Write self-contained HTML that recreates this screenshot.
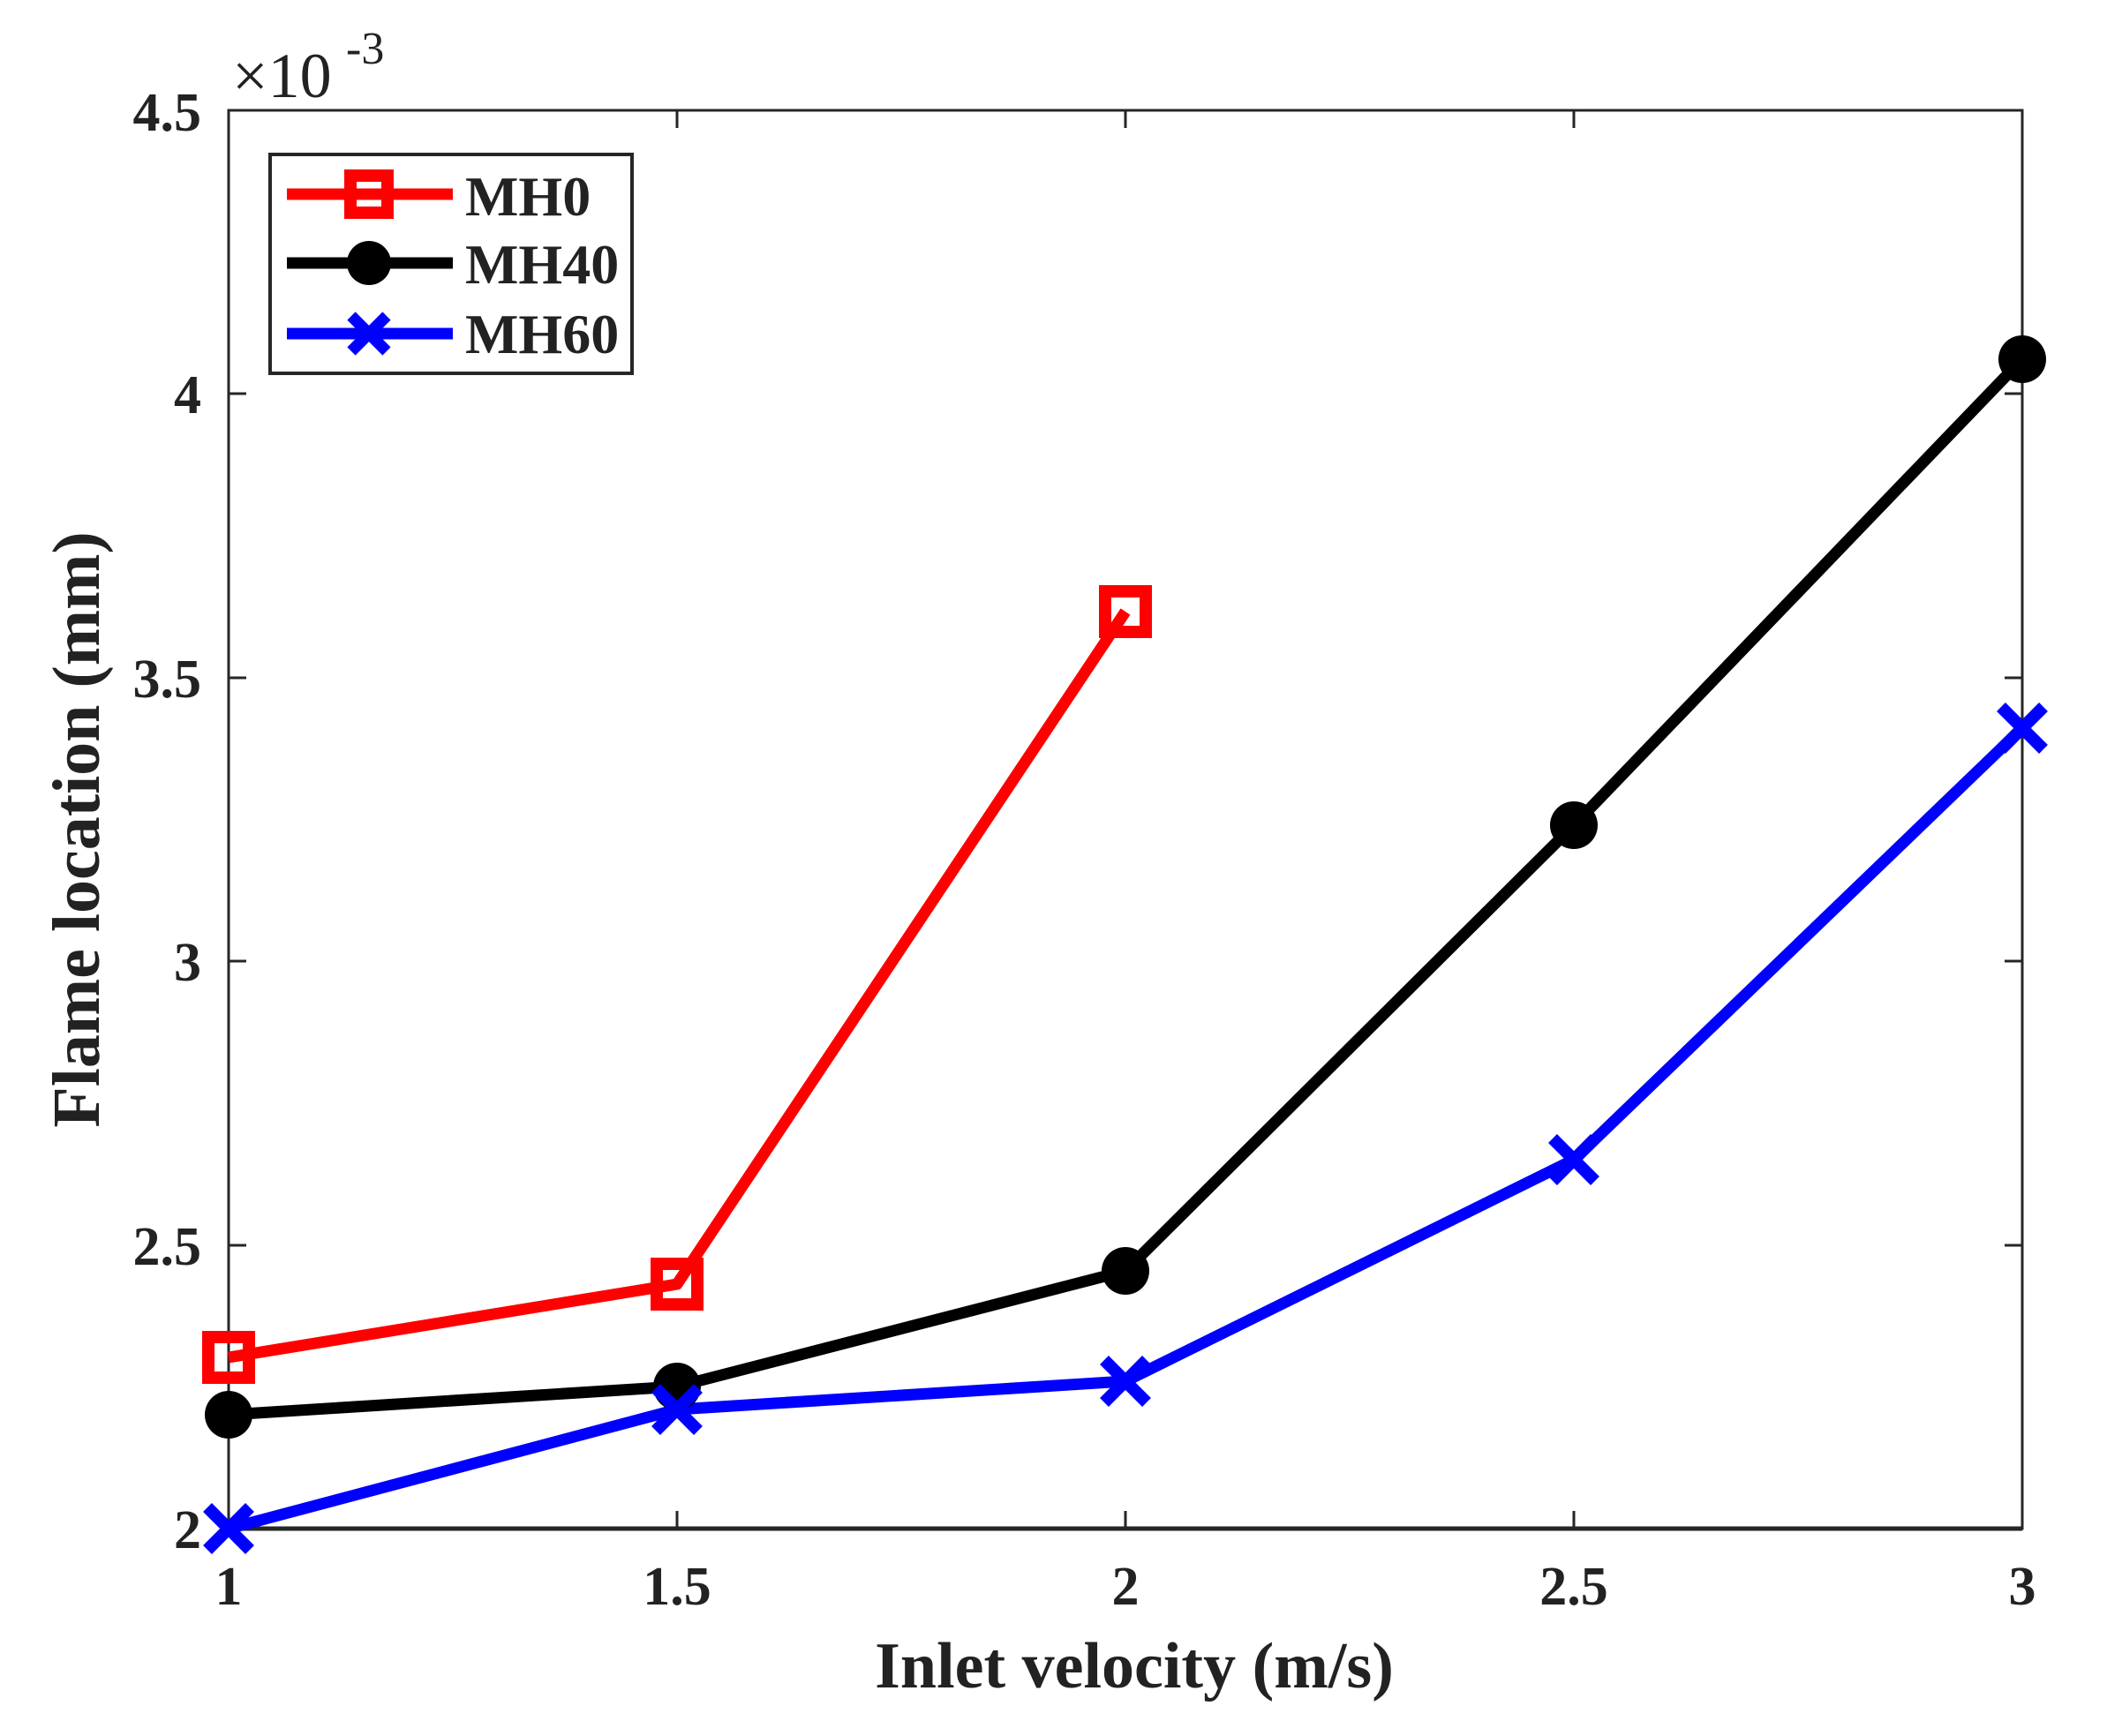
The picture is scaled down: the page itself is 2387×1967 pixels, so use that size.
<!DOCTYPE html>
<html><head><meta charset="utf-8"><style>
html,body{margin:0;padding:0;background:#fff;}
svg{display:block;}
text{font-family:"Liberation Serif",serif;fill:#222;}
</style></head><body>
<svg width="2387" height="1967" viewBox="0 0 2387 1967" xmlns="http://www.w3.org/2000/svg">
<rect x="259" y="125" width="2032" height="1607" fill="none" stroke="#262626" stroke-width="3"/>
<line x1="259" y1="1732" x2="2291" y2="1732" stroke="#262626" stroke-width="5"/>
<g stroke="#262626" stroke-width="3">
<line x1="767" y1="1732" x2="767" y2="1712"/><line x1="1275" y1="1732" x2="1275" y2="1712"/><line x1="1783" y1="1732" x2="1783" y2="1712"/>
<line x1="767" y1="125" x2="767" y2="145"/><line x1="1275" y1="125" x2="1275" y2="145"/><line x1="1783" y1="125" x2="1783" y2="145"/>
<line x1="259" y1="446" x2="279" y2="446"/><line x1="259" y1="768" x2="279" y2="768"/><line x1="259" y1="1089" x2="279" y2="1089"/><line x1="259" y1="1411" x2="279" y2="1411"/>
<line x1="2291" y1="446" x2="2271" y2="446"/><line x1="2291" y1="768" x2="2271" y2="768"/><line x1="2291" y1="1089" x2="2271" y2="1089"/><line x1="2291" y1="1411" x2="2271" y2="1411"/>
</g>
<g font-size="62" font-weight="bold" text-anchor="end">
<text x="228" y="148">4.5</text><text x="228" y="468">4</text><text x="228" y="790">3.5</text><text x="228" y="1111">3</text><text x="228" y="1433">2.5</text><text x="228" y="1754">2</text>
</g>
<g font-size="62" font-weight="bold" text-anchor="middle">
<text x="259" y="1818">1</text><text x="767" y="1818">1.5</text><text x="1275" y="1818">2</text><text x="1783" y="1818">2.5</text><text x="2291" y="1818">3</text>
</g>
<text x="263" y="110" font-size="72">×10</text><text x="392" y="72" font-size="52">-3</text>
<text x="1285" y="1912" font-size="74" font-weight="bold" text-anchor="middle">Inlet velocity (m/s)</text>
<text transform="translate(112,940) rotate(-90)" font-size="76" font-weight="bold" text-anchor="middle">Flame location (mm)</text>
<polyline points="259,1538 767,1455 1275,693" fill="none" stroke="#ff0000" stroke-width="13" stroke-linejoin="round"/>
<polyline points="259,1603 767,1571 1275,1440 1783,935 2291,407" fill="none" stroke="#000" stroke-width="13" stroke-linejoin="round"/>
<polyline points="259,1732 767,1597 1275,1565 1783,1314 2291,825" fill="none" stroke="#0000ff" stroke-width="13" stroke-linejoin="round"/>
<g fill="none" stroke="#ff0000" stroke-width="14">
<rect x="236" y="1515" width="46" height="46"/><rect x="744" y="1432" width="46" height="46"/><rect x="1252" y="670" width="46" height="46"/>
</g>
<g fill="#000">
<circle cx="259" cy="1603" r="27"/><circle cx="767" cy="1571" r="27"/><circle cx="1275" cy="1440" r="27"/><circle cx="1783" cy="935" r="27"/><circle cx="2291" cy="407" r="27"/>
</g>
<g stroke="#0000ff" stroke-width="14">
<path d="M235,1708 l48,48 M283,1708 l-48,48"/>
<path d="M743,1573 l48,48 M791,1573 l-48,48"/>
<path d="M1251,1541 l48,48 M1299,1541 l-48,48"/>
<path d="M1759,1290 l48,48 M1807,1290 l-48,48"/>
<path d="M2267,801 l48,48 M2315,801 l-48,48"/>
</g>
<rect x="306" y="175" width="410" height="248" fill="#fff" stroke="#262626" stroke-width="4"/>
<line x1="325" y1="220" x2="513" y2="220" stroke="#ff0000" stroke-width="13"/>
<rect x="397" y="199" width="42" height="42" fill="none" stroke="#ff0000" stroke-width="14"/>
<line x1="325" y1="298" x2="513" y2="298" stroke="#000" stroke-width="13"/>
<circle cx="418" cy="298" r="25" fill="#000"/>
<line x1="325" y1="378" x2="513" y2="378" stroke="#0000ff" stroke-width="13"/>
<path d="M398,358 l40,40 M438,358 l-40,40" stroke="#0000ff" stroke-width="13"/>
<g font-size="64" font-weight="bold">
<text x="527" y="244">MH0</text><text x="527" y="321">MH40</text><text x="527" y="400">MH60</text>
</g>
</svg>
</body></html>
